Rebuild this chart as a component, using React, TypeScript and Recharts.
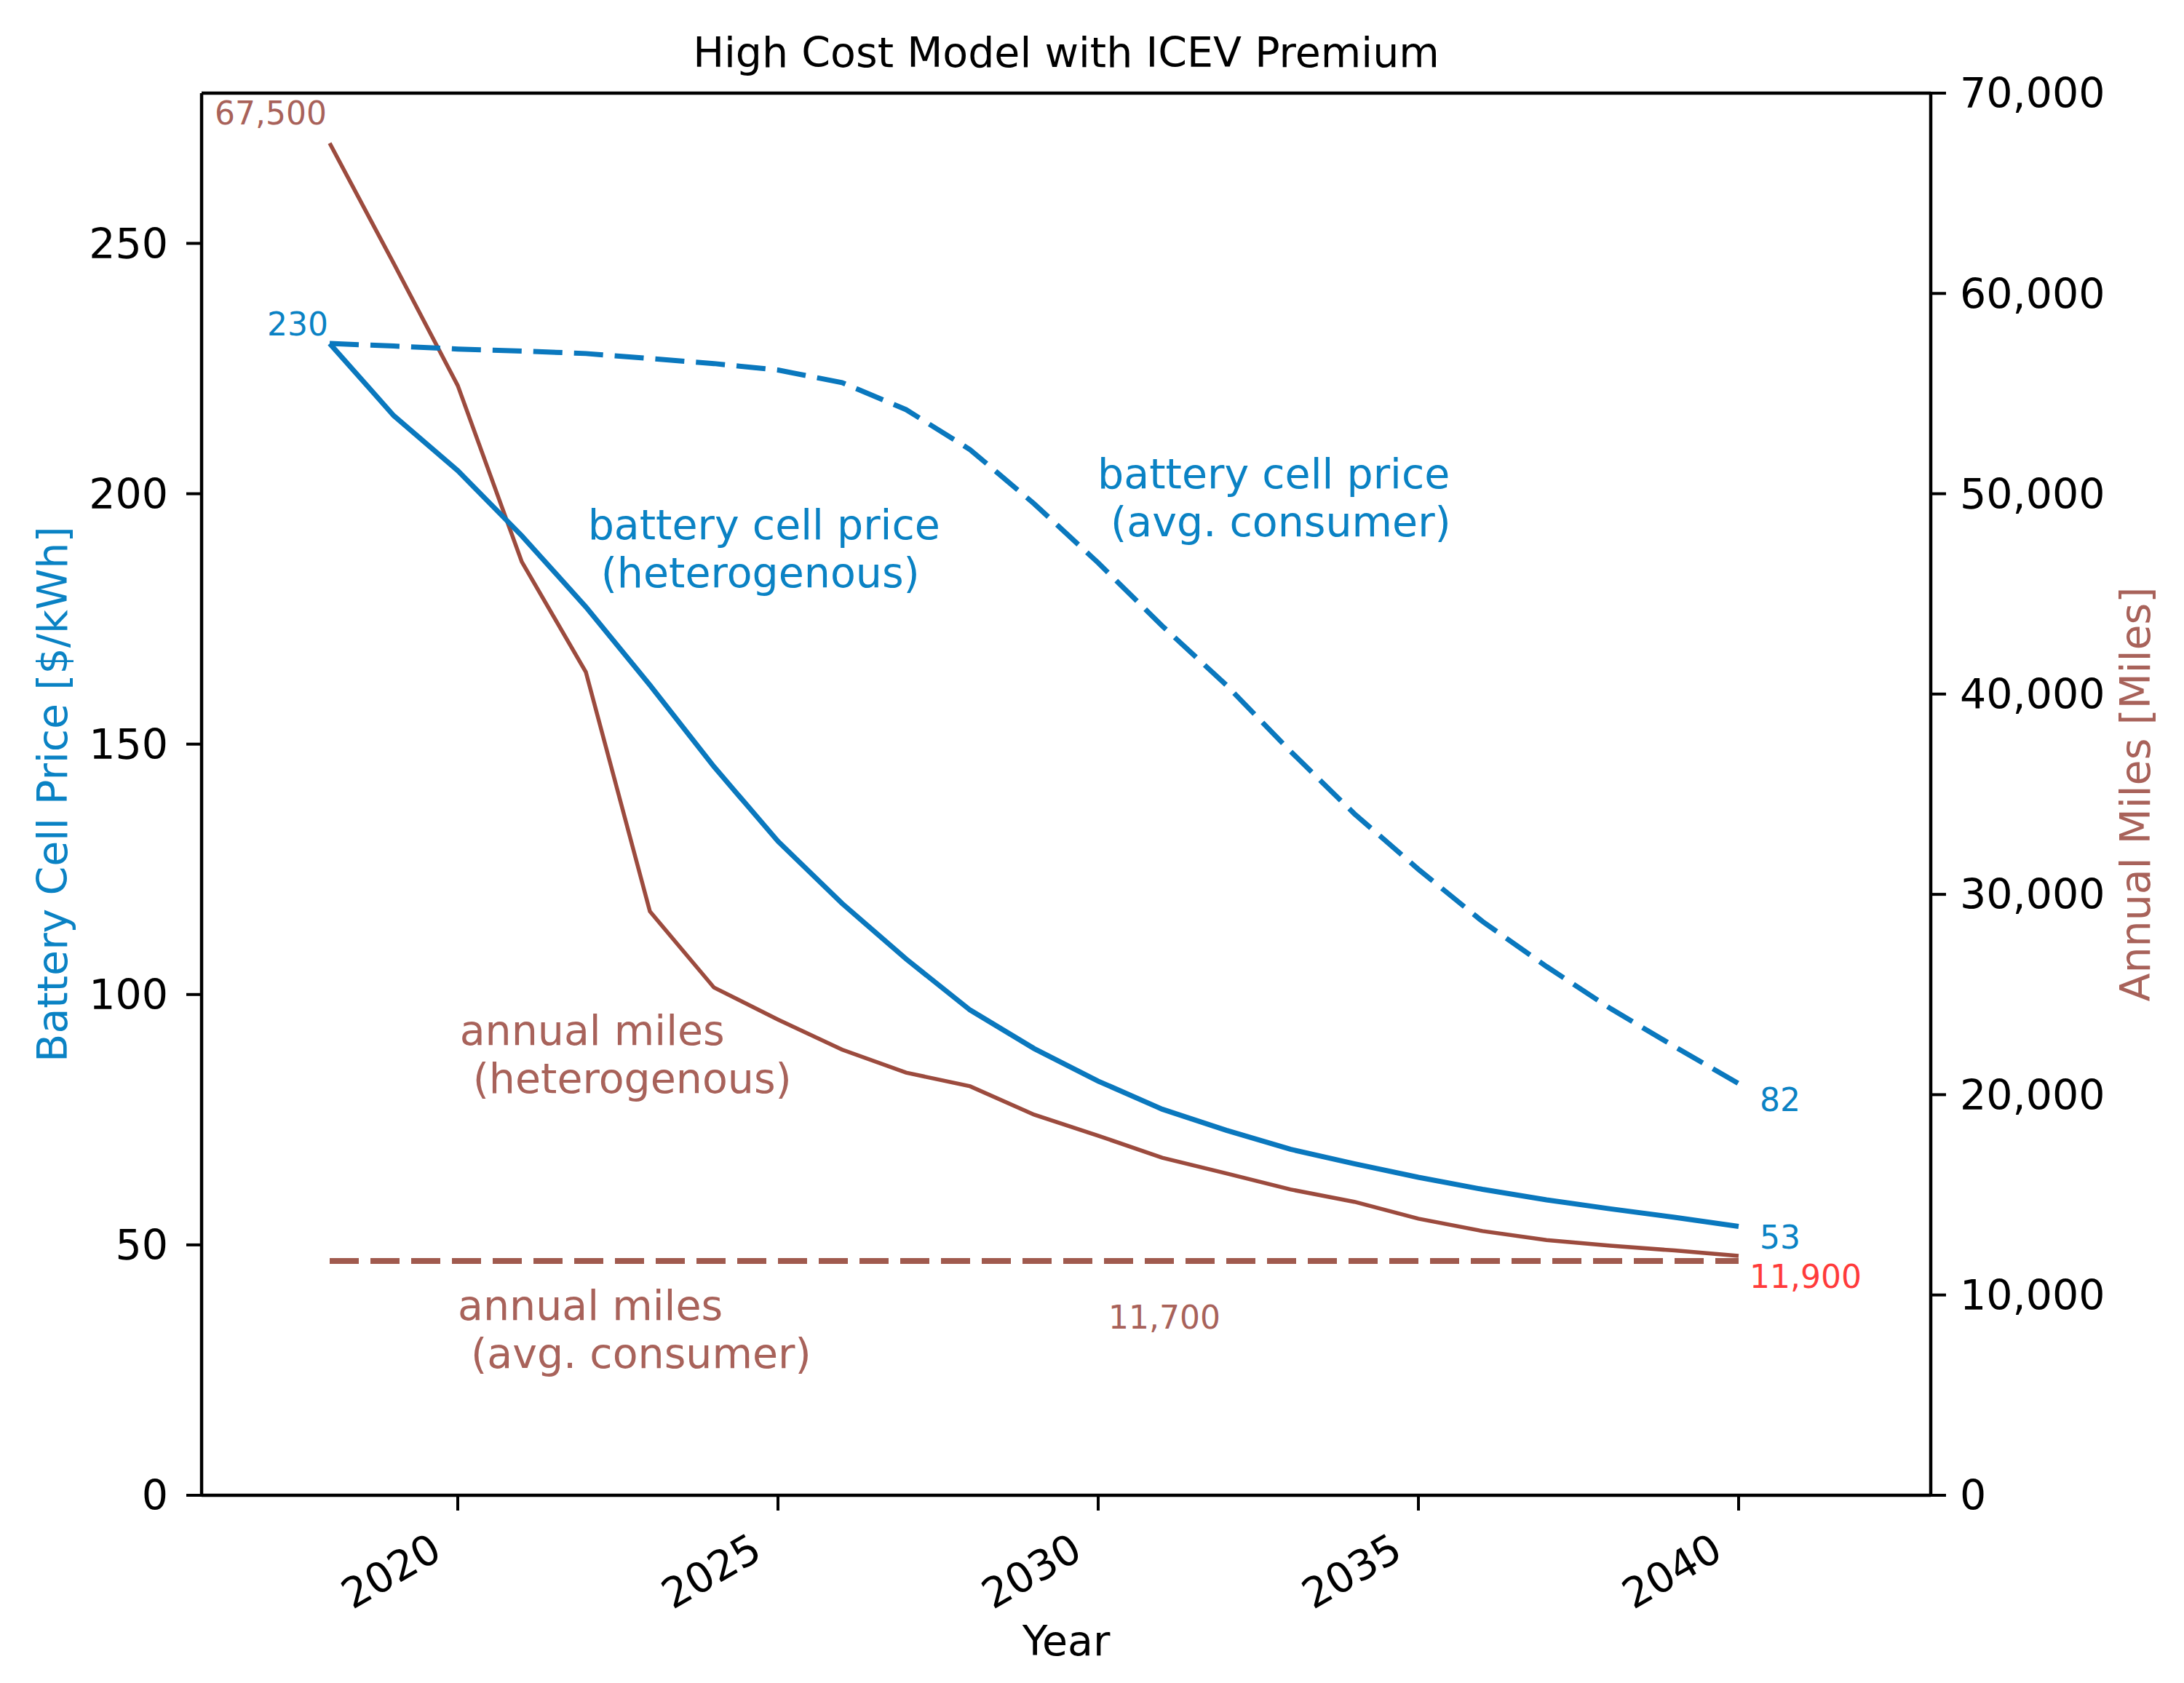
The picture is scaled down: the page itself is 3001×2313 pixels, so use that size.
import React from "react";
import { LineChart, Line, XAxis, YAxis, ReferenceDot, ReferenceLine } from "recharts";

// values
const years = [
  2018, 2019, 2020, 2021, 2022, 2023, 2024, 2025, 2026, 2027, 2028, 2029,
  2030, 2031, 2032, 2033, 2034, 2035, 2036, 2037, 2038, 2039, 2040,
];
const priceHetero = [
  230, 215.6, 204.6, 191.6, 177.4, 161.8, 145.5, 130.6, 118.2, 107.1, 96.9,
  89.2, 82.7, 77.1, 72.9, 69.1, 66.2, 63.5, 61.1, 59.0, 57.2, 55.5, 53.7,
];
const priceAvg = [
  230, 229.5, 228.9, 228.5, 228.0, 227.0, 226.0, 224.7, 222.2, 216.8, 208.8,
  198.0, 186.2, 173.6, 161.8, 148.6, 136.1, 125.0, 114.6, 105.6, 97.2, 89.6,
  82.2,
];
const milesHetero = [
  67500, 61500, 55400, 46600, 41100, 29150, 25350, 23750, 22250, 21100, 20420,
  19000, 17950, 16850, 16070, 15270, 14650, 13810, 13190, 12740, 12460, 12220,
  11950,
];
const milesAvg = [
  11700, 11700, 11700, 11700, 11700, 11700, 11700, 11700, 11700, 11700, 11700,
  11700, 11700, 11700, 11700, 11700, 11700, 11700, 11700, 11700, 11700, 11700,
  11700,
];

const xTicks = [2020, 2025, 2030, 2035, 2040];
const leftTicks = [0, 50, 100, 150, 200, 250];
const rightTicks = [0, 10000, 20000, 30000, 40000, 50000, 60000, 70000];

const data = years.map((year, i) => ({
  year,
  priceHetero: priceHetero[i],
  priceAvg: priceAvg[i],
  milesHetero: milesHetero[i],
  milesAvg: milesAvg[i],
}));

const BLUE = "#0a78be";
const BLUE_TEXT = "#0a82c4";
const BROWN = "#9c4b3e";
const BROWN_DASH = "#a05a4e";
const BROWN_TEXT = "#a8625a";
const RED = "#ff3b3b";
const FONT = "'DejaVu Sans', sans-serif";
const FS = 57;
const SMALL = 44;
const GAP = 66;

const fmt = (v: number) => v.toLocaleString("en-US");

function XTick(props: any) {
  const { x, y, payload } = props;
  return (
    <text
      x={0}
      y={0}
      transform={`translate(${x - 19},${y + 64}) rotate(-30)`}
      textAnchor="end"
      fontSize={FS}
      fontFamily={FONT}
      fill="#000"
    >
      {payload.value}
    </text>
  );
}

// two-line note placed at data coordinates
function note(lines: string[], color: string) {
  return (props: any) => {
    const { cx, cy } = props;
    if (cx == null || cy == null) return <g />;
    return (
      <text x={cx} y={cy} fontSize={FS} fontFamily={FONT} fill={color}>
        <tspan x={cx} y={cy - 4}>
          {lines[0]}
        </tspan>
        <tspan x={cx + 18} y={cy - 4 + GAP}>
          {lines[1]}
        </tspan>
      </text>
    );
  };
}

function endLabel(
  index: number,
  text: string,
  color: string,
  dx: number,
  dy: number,
  anchor: "start" | "end" = "start"
) {
  return (props: any) => {
    if (props.index !== index) return null;
    return (
      <text
        key={`l-${text}`}
        x={props.x + dx}
        y={props.y + dy}
        textAnchor={anchor}
        fontSize={SMALL}
        fontFamily={FONT}
        fill={color}
      >
        {text}
      </text>
    );
  };
}

export default function App() {
  const last = years.length - 1;
  return (
    <div style={{ position: "absolute", left: 0, top: 0, background: "#fff" }}>
      <LineChart
        width={3001}
        height={2313}
        data={data}
        margin={{ top: 128, right: 128, bottom: 108, left: 77 }}
        style={{ fontFamily: FONT }}
      >
        <XAxis
          dataKey="year"
          type="number"
          domain={[2016, 2043]}
          ticks={xTicks}
          allowDataOverflow
          height={150}
          tickSize={21}
          tickMargin={0}
          tick={<XTick />}
          axisLine={{ stroke: "#000", strokeWidth: 4.5 }}
          tickLine={{ stroke: "#000", strokeWidth: 4 }}
          label={{
            content: (p: any) => (
              <text
                x={p.viewBox.x + p.viewBox.width / 2}
                y={p.viewBox.y + 220}
                textAnchor="middle"
                fontSize={FS}
                fontFamily={FONT}
                fill="#000"
              >
                Year
              </text>
            ),
          }}
        />
        <YAxis
          yAxisId="left"
          domain={[0, 280]}
          ticks={leftTicks}
          allowDataOverflow
          width={200}
          tickSize={21}
          tickMargin={25}
          tick={{ fill: "#000", fontSize: FS, fontFamily: FONT }}
          axisLine={{ stroke: "#000", strokeWidth: 4.5 }}
          tickLine={{ stroke: "#000", strokeWidth: 4 }}
          label={{
            content: (p: any) => {
              const cx = p.viewBox.x - 5;
              const cy = p.viewBox.y + p.viewBox.height / 2;
              return (
                <text
                  x={cx}
                  y={cy}
                  transform={`rotate(-90, ${cx}, ${cy})`}
                  textAnchor="middle"
                  dominantBaseline="central"
                  fontSize={FS}
                  fontFamily={FONT}
                  fill={BLUE_TEXT}
                >
                  Battery Cell Price [$/kWh]
                </text>
              );
            },
          }}
        />
        <YAxis
          yAxisId="right"
          orientation="right"
          domain={[0, 70000]}
          ticks={rightTicks}
          allowDataOverflow
          width={220}
          tickSize={21}
          tickMargin={19}
          tickFormatter={fmt}
          tick={{ fill: "#000", fontSize: FS, fontFamily: FONT }}
          axisLine={{ stroke: "#000", strokeWidth: 4.5 }}
          tickLine={{ stroke: "#000", strokeWidth: 4 }}
          label={{
            content: (p: any) => {
              const cx = p.viewBox.x + 281;
              const cy = p.viewBox.y + p.viewBox.height / 2;
              return (
                <text
                  x={cx}
                  y={cy}
                  transform={`rotate(-90, ${cx}, ${cy})`}
                  textAnchor="middle"
                  dominantBaseline="central"
                  fontSize={FS}
                  fontFamily={FONT}
                  fill={BROWN_TEXT}
                >
                  Annual Miles [Miles]
                </text>
              );
            },
          }}
        />

        {/* top spine + title */}
        <ReferenceLine
          yAxisId="left"
          y={280}
          stroke="#000"
          strokeWidth={4.5}
          ifOverflow="visible"
          label={{
            content: (p: any) => (
              <text
                x={p.viewBox.x + p.viewBox.width / 2}
                y={p.viewBox.y - 36}
                textAnchor="middle"
                fontSize={FS}
                fontFamily={FONT}
                fill="#000"
              >
                High Cost Model with ICEV Premium
              </text>
            ),
          }}
        />

        <Line
          yAxisId="right"
          dataKey="milesAvg"
          stroke={BROWN_DASH}
          strokeWidth={8}
          strokeDasharray="40 16"
          dot={false}
          activeDot={false}
          isAnimationActive={false}
          label={endLabel(12, "11,700", BROWN_TEXT, 14, 93)}
        />
        <Line
          yAxisId="right"
          dataKey="milesHetero"
          stroke={BROWN}
          strokeWidth={5.5}
          dot={false}
          activeDot={false}
          isAnimationActive={false}
          label={(p: any) =>
            p.index === 0
              ? endLabel(0, "67,500", BROWN_TEXT, -4, -26, "end")(p)
              : endLabel(last, "11,900", RED, 15, 44)(p)
          }
        />
        <Line
          yAxisId="left"
          dataKey="priceAvg"
          stroke={BLUE}
          strokeWidth={7}
          strokeDasharray="40 16"
          dot={false}
          activeDot={false}
          isAnimationActive={false}
          label={endLabel(last, "82", BLUE_TEXT, 29, 38)}
        />
        <Line
          yAxisId="left"
          dataKey="priceHetero"
          stroke={BLUE}
          strokeWidth={7}
          dot={false}
          activeDot={false}
          isAnimationActive={false}
          label={(p: any) =>
            p.index === 0
              ? endLabel(0, "230", BLUE_TEXT, -2, -11, "end")(p)
              : endLabel(last, "53", BLUE_TEXT, 29, 31)(p)
          }
        />

        <ReferenceDot
          yAxisId="left"
          x={2022.03}
          y={190.3}
          r={0}
          shape={note(["battery cell price", "(heterogenous)"], BLUE_TEXT)}
        />
        <ReferenceDot
          yAxisId="left"
          x={2029.99}
          y={200.5}
          r={0}
          shape={note(["battery cell price", "(avg. consumer)"], BLUE_TEXT)}
        />
        <ReferenceDot
          yAxisId="left"
          x={2020.03}
          y={89.3}
          r={0}
          shape={note(["annual miles", "(heterogenous)"], BROWN_TEXT)}
        />
        <ReferenceDot
          yAxisId="left"
          x={2020.0}
          y={34.4}
          r={0}
          shape={note(["annual miles", "(avg. consumer)"], BROWN_TEXT)}
        />
      </LineChart>
    </div>
  );
}
